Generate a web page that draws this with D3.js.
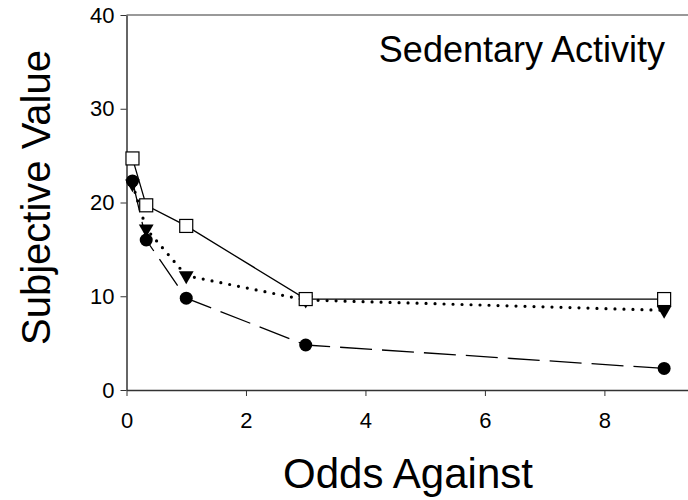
<!DOCTYPE html>
<html>
<head>
<meta charset="utf-8">
<script src="https://cdn.jsdelivr.net/npm/d3@7"></script>
<style>
  html, body { margin: 0; padding: 0; background: #fff; }
  svg { display: block; }
  svg text { font-family: "Liberation Sans", Arial, sans-serif; fill: #000; }
</style>
</head>
<body>
<svg id="chart" width="688" height="500"></svg>
<script>
// Odds against (x) for each measurement
const odds = [0.1, 0.33, 1, 3, 9];

// Subjective value for each condition
const squareValues = [24.7, 19.7, 17.5, 9.7, 9.7];
const triangleValues = [22.0, 17.2, 12.2, 9.6, 8.5];
const circleValues = [22.3, 16.0, 9.8, 4.8, 2.3];

const xTicks = [0, 2, 4, 6, 8];
const yTicks = [0, 10, 20, 30, 40];

const svg = d3.select("#chart");

const x = d3.scaleLinear().domain([0, 9.5]).range([126.5, 694]);
const y = d3.scaleLinear().domain([0, 40]).range([390, 15]);

const axisColor = "#333";

// Frame: top border
svg.append("line")
  .attr("x1", x(0)).attr("x2", x(9.5))
  .attr("y1", y(40)).attr("y2", y(40))
  .attr("stroke", "#777").attr("stroke-width", 1.5);

// X axis
const xAxis = svg.append("g")
  .attr("transform", `translate(0,${y(0)})`)
  .call(d3.axisBottom(x).tickValues(xTicks).tickSize(6).tickSizeOuter(0).tickFormat(d3.format("d")));
xAxis.attr("font-family", null).attr("font-size", null);
xAxis.select(".domain").attr("stroke", axisColor).attr("stroke-width", 1.5);
xAxis.selectAll(".tick line").attr("stroke", axisColor).attr("stroke-width", 1);
xAxis.selectAll(".tick text").style("font-size", "22px").attr("y", 0).attr("dy", "38px");

// Y axis
const yAxis = svg.append("g")
  .attr("transform", `translate(${x(0)},0)`)
  .call(d3.axisLeft(y).tickValues(yTicks).tickSize(6).tickSizeOuter(0).tickFormat(d3.format("d")));
yAxis.attr("font-family", null).attr("font-size", null);
yAxis.select(".domain").attr("stroke", axisColor).attr("stroke-width", 1.5);
yAxis.selectAll(".tick line").attr("stroke", axisColor).attr("stroke-width", 1);
yAxis.selectAll(".tick text").style("font-size", "22px").attr("x", -12);

const line = d3.line().x(d => x(d[0])).y(d => y(d[1]));
const pts = vals => odds.map((o, i) => [o, vals[i]]);

// Triangle series: dotted line, filled down-triangles
svg.append("path").datum(pts(triangleValues))
  .attr("d", line).attr("fill", "none").attr("stroke", "#000")
  .attr("stroke-width", 3.2).attr("stroke-linecap", "round")
  .attr("stroke-dasharray", "0,9");
const tri = d3.symbol().type(d3.symbolTriangle).size(95);
svg.append("g").selectAll("path").data(pts(triangleValues)).join("path")
  .attr("d", tri)
  .attr("transform", d => `translate(${x(d[0])},${y(d[1])}) rotate(180)`)
  .attr("fill", "#000");

// Circle series: long-dashed line, filled circles
svg.append("path").datum(pts(circleValues))
  .attr("d", line).attr("fill", "none").attr("stroke", "#000")
  .attr("stroke-width", 1.3).attr("stroke-dasharray", "32,10");
svg.append("g").selectAll("circle").data(pts(circleValues)).join("circle")
  .attr("cx", d => x(d[0])).attr("cy", d => y(d[1])).attr("r", 6.5)
  .attr("fill", "#000");

// Square series: solid line, open squares
svg.append("path").datum(pts(squareValues))
  .attr("d", line).attr("fill", "none").attr("stroke", "#000")
  .attr("stroke-width", 1.3);
svg.append("g").selectAll("rect").data(pts(squareValues)).join("rect")
  .attr("x", d => x(d[0]) - 6.5).attr("y", d => y(d[1]) - 6.5)
  .attr("width", 13).attr("height", 13)
  .attr("fill", "#fff").attr("stroke", "#000").attr("stroke-width", 1.2);

// Panel title
svg.append("text")
  .attr("x", 665).attr("y", 62)
  .attr("text-anchor", "end")
  .style("font-size", "36px")
  .text("Sedentary Activity");

// Axis titles
svg.append("text")
  .attr("x", 408).attr("y", 488)
  .attr("text-anchor", "middle")
  .style("font-size", "42px")
  .text("Odds Against");

svg.append("text")
  .attr("transform", `translate(50,${y(20) - 5}) rotate(-90)`)
  .attr("text-anchor", "middle")
  .style("font-size", "40px")
  .text("Subjective Value");
</script>
</body>
</html>
